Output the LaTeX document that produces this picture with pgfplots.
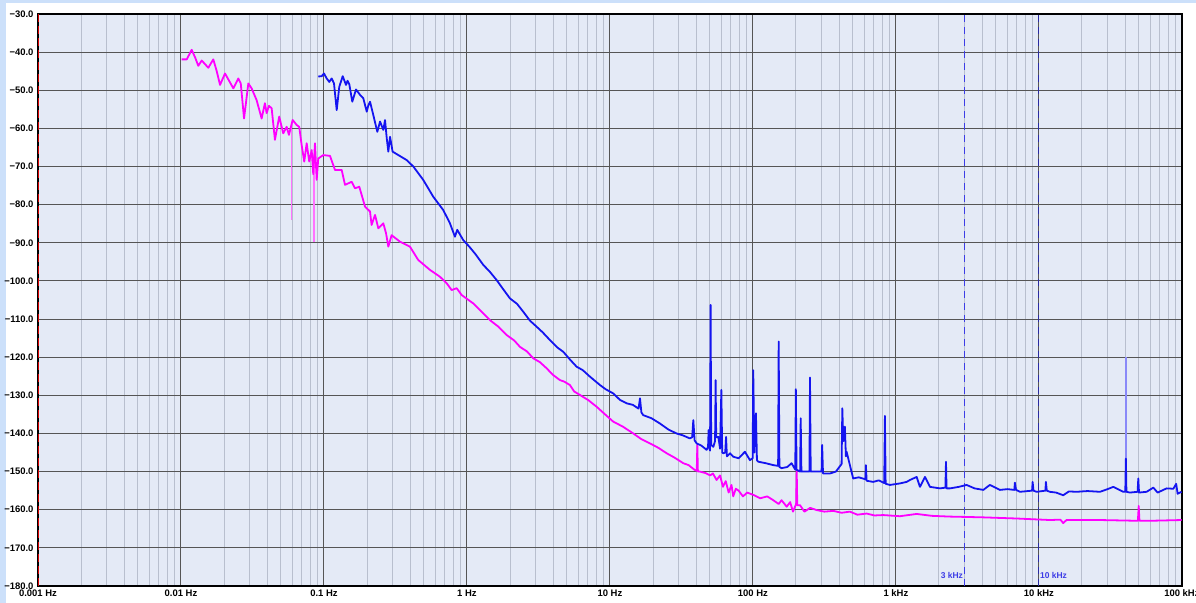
\documentclass[border=0pt]{standalone}
\usepackage{pgfplots}
\pgfplotsset{compat=1.18}
\usepackage{fontspec}
\setmainfont{Liberation Sans}
\definecolor{bgplot}{RGB}{228,234,246}
\definecolor{outerbg}{RGB}{204,224,250}
\definecolor{majgrid}{RGB}{85,85,85}
\definecolor{mingrid}{RGB}{184,191,206}
\definecolor{cmag}{RGB}{255,0,255}
\definecolor{cblue}{RGB}{20,20,240}
\definecolor{lblue}{RGB}{60,60,230}
\begin{document}
\begin{tikzpicture}
\useasboundingbox (-38bp,-17bp) rectangle (1158bp,586bp);
\fill[outerbg] (-38bp,-17bp) rectangle (1158bp,586bp);
\fill[white] (-32bp,-17bp) rectangle (1158bp,582.5bp);
\begin{axis}[
  scale only axis,
  width=1144bp, height=572bp,
  xmin=-3, xmax=5, ymin=-180, ymax=-30,
  axis background/.style={fill=bgplot},
  xtick={-3,-2,-1,0,1,2,3,4,5},
  xticklabels={0.001 Hz,0.01 Hz,0.1 Hz,1 Hz,10 Hz,100 Hz,1 kHz,10 kHz,100 kHz},
  minor xtick={-2.69897,-2.52288,-2.39794,-2.30103,-2.22185,-2.15490,-2.09691,-2.04576,
   -1.69897,-1.52288,-1.39794,-1.30103,-1.22185,-1.15490,-1.09691,-1.04576,
   -0.69897,-0.52288,-0.39794,-0.30103,-0.22185,-0.15490,-0.09691,-0.04576,
   0.30103,0.47712,0.60206,0.69897,0.77815,0.84510,0.90309,0.95424,
   1.30103,1.47712,1.60206,1.69897,1.77815,1.84510,1.90309,1.95424,
   2.30103,2.47712,2.60206,2.69897,2.77815,2.84510,2.90309,2.95424,
   3.30103,3.47712,3.60206,3.69897,3.77815,3.84510,3.90309,3.95424,
   4.30103,4.47712,4.60206,4.69897,4.77815,4.84510,4.90309,4.95424},
  ytick={-180,-170,-160,-150,-140,-130,-120,-110,-100,-90,-80,-70,-60,-50,-40,-30},
  yticklabels={−180.0,−170.0,−160.0,−150.0,−140.0,−130.0,−120.0,−110.0,−100.0,−90.0,−80.0,−70.0,−60.0,−50.0,−40.0,−30.0},
  grid=both,
  major grid style={majgrid, line width=1pt},
  minor grid style={mingrid, line width=1pt},
  major tick length=0pt, minor tick length=0pt,
  tick style={draw=none},
  axis line style={black, line width=1.5pt},
  ticklabel style={font=\fontsize{9.5}{11}\selectfont\bfseries},
  xticklabel style={yshift=-0.5bp},
  yticklabel style={xshift=-1bp},
  clip=true,
]
% dashed markers
\addplot[lblue, line width=1pt, dash pattern=on 7bp off 5bp] coordinates {(3.47712,-180) (3.47712,-30)};
\addplot[lblue!70!black, line width=1pt, dash pattern=on 7bp off 5bp] coordinates {(4,-180) (4,-30)};
\node[anchor=east, text=lblue, font=\fontsize{8.5}{10}\selectfont\bfseries, inner sep=1bp] at (axis cs:3.47712,-177.2) {3 kHz};
\node[anchor=west, text=lblue, font=\fontsize{8.5}{10}\selectfont\bfseries, inner sep=1bp] at (axis cs:4,-177.2) {10 kHz};
% pale drop lines
\addplot[cmag!55, line width=1.6pt] coordinates {(-1.226,-59.0) (-1.226,-84.0)};
\addplot[cmag!55, line width=1.6pt] coordinates {(-1.070,-67.0) (-1.070,-89.7)};
\addplot[cblue!50, line width=1.6pt] coordinates {(4.608,-146.6) (4.608,-119.9)};
% magenta series
\addplot[cmag, line width=1.8pt, line join=round] coordinates {
(-1.995,-41.9) (-1.960,-41.9) (-1.925,-39.4) (-1.900,-41.5) (-1.879,-43.6) (-1.855,-42.2) (-1.809,-44.1) (-1.774,-41.9) (-1.750,-45) (-1.727,-48.6) (-1.692,-45.6) (-1.634,-49.5) (-1.599,-46.9) (-1.582,-48.2) (-1.559,-57.4) (-1.529,-48.2) (-1.506,-49.5) (-1.471,-52.6) (-1.436,-57.4) (-1.413,-53.4) (-1.401,-56.0) (-1.385,-54.1) (-1.366,-54.7) (-1.343,-63.0) (-1.313,-56.9) (-1.285,-61.3) (-1.261,-59.6) (-1.245,-61.7) (-1.219,-57.8) (-1.191,-59.1) (-1.173,-59.6) (-1.156,-64.4) (-1.138,-68.7) (-1.121,-63.9) (-1.103,-68.7) (-1.086,-65.7) (-1.075,-72) (-1.063,-63.9) (-1.051,-73.5) (-1.040,-67.9) (-1.005,-67.0) (-0.958,-67.2) (-0.923,-70.9) (-0.876,-70.9) (-0.853,-74.8) (-0.806,-74.0) (-0.783,-75.7) (-0.753,-75.3) (-0.713,-80.5) (-0.678,-81.8) (-0.667,-85.3) (-0.643,-82.7) (-0.620,-86.2) (-0.585,-84.9) (-0.566,-87.5) (-0.550,-91.0) (-0.527,-88.0) (-0.469,-89.7) (-0.399,-91.0) (-0.341,-94.5) (-0.259,-97.1)
(-0.189,-98.9) (-0.142,-100.6) (-0.107,-102.4) (-0.072,-101.9) (-0.037,-103.7) (0.044,-105.9) (0.10,-108.0) (0.161,-110.3) (0.22,-112.0) (0.278,-114.2) (0.33,-115.6) (0.371,-117.3) (0.42,-118.5) (0.464,-120.3) (0.51,-121.3) (0.557,-122.9) (0.60,-124.6) (0.650,-126.0) (0.68,-126.4) (0.720,-127.3) (0.75,-129.0) (0.790,-129.9) (0.85,-131.3) (0.907,-133.0) (0.96,-134.8) (1.023,-136.9) (1.09,-138.2) (1.163,-140.0) (1.22,-141.5) (1.280,-142.6) (1.34,-143.8) (1.397,-145.2) (1.45,-146.3) (1.513,-147.8) (1.55,-148.3) (1.594,-149.6) (1.607,-149.8) (1.611,-143.0) (1.615,-150.0) (1.629,-150.0) (1.67,-150.4) (1.700,-151) (1.72,-150.5) (1.746,-152.2)
(1.77,-151) (1.79,-154) (1.81,-152.5) (1.83,-155.5) (1.85,-153.5) (1.862,-156.5) (1.88,-154.5) (1.90,-155) (1.93,-156.5) (1.96,-155.5) (2.002,-156.1) (2.05,-157) (2.10,-156.5) (2.142,-157.5) (2.18,-158.5) (2.20,-157.5) (2.236,-159.2) (2.26,-158) (2.28,-160.5) (2.302,-158.5) (2.306,-149.6) (2.310,-158.8) (2.329,-158.8) (2.36,-160.5) (2.40,-159.5) (2.446,-160.1) (2.50,-160.5) (2.562,-160.3) (2.62,-160.8) (2.678,-160.5) (2.73,-161.3) (2.795,-161.0) (2.85,-161.5) (2.911,-161.4) (3.028,-161.7) (3.145,-161.1) (3.25,-161.6) (3.378,-161.8) (3.50,-161.9) (3.611,-162.0) (3.844,-162.3) (4.077,-162.7) (4.150,-162.6) (4.170,-163.5) (4.193,-162.7) (4.427,-162.7) (4.692,-162.9) (4.698,-159.0) (4.703,-162.9) (4.776,-162.9) (4.998,-162.7)
};
% blue series
\addplot[cblue, line width=1.8pt, line join=round] coordinates {
(-1.040,-46.4) (-1.016,-46.3) (-1.000,-45.6) (-0.981,-46.9) (-0.963,-47.8) (-0.946,-46.9) (-0.930,-48.2) (-0.911,-55.2) (-0.893,-49.1) (-0.869,-46.3) (-0.846,-48.6) (-0.835,-47.5) (-0.823,-48.4) (-0.802,-53.0) (-0.776,-49.8) (-0.748,-51.2) (-0.725,-52.1) (-0.701,-55.6) (-0.690,-54.0) (-0.678,-53.0) (-0.655,-56.5) (-0.627,-60.9) (-0.608,-58.2) (-0.585,-60.4) (-0.573,-57.8) (-0.561,-62.6) (-0.550,-66.1) (-0.538,-62.2) (-0.520,-66.1) (-0.480,-67.0) (-0.422,-68.3) (-0.375,-70.0) (-0.306,-73.5) (-0.236,-77.9) (-0.166,-81.4) (-0.119,-84.9) (-0.084,-88.4) (-0.068,-86.6) (-0.026,-89.3) (0.016,-91.0) (0.06,-93.0) (0.114,-95.8) (0.16,-97.6) (0.208,-99.8) (0.25,-102.0) (0.301,-104.6) (0.35,-106.0) (0.394,-108.1) (0.44,-110.4) (0.487,-112.0) (0.53,-113.5) (0.580,-115.5) (0.63,-117.4) (0.674,-118.6) (0.72,-120.6) (0.767,-122.5) (0.81,-123.4) (0.860,-125.1) (0.930,-127.3) (0.97,-128.4) (1.023,-129.5) (1.07,-131.2) (1.117,-132.1) (1.16,-132.5) (1.200,-133.5) (1.210,-130.8) (1.220,-134.5) (1.233,-135.2) (1.29,-136.0) (1.350,-137.4) (1.41,-139.0) (1.466,-140.0) (1.51,-140.5) (1.559,-141.3) (1.575,-141) (1.583,-136.5) (1.592,-141.8) (1.606,-142.6) (1.64,-143.2) (1.676,-144.3) (1.686,-143.5) (1.690,-139.1) (1.696,-144) (1.700,-144.5) (1.704,-106.3) (1.708,-143) (1.723,-143.5) (1.735,-142) (1.739,-126.0) (1.743,-141) (1.758,-140.9) (1.770,-144) (1.779,-128.6) (1.785,-145) (1.793,-145.2) (1.806,-145) (1.812,-140.9) (1.818,-146) (1.84,-145.2) (1.862,-146.1) (1.90,-146.5) (1.944,-144.8) (1.979,-147.0) (1.998,-146.5) (2.002,-123.4) (2.010,-145) (2.021,-134.7) (2.028,-147) (2.037,-147.4) (2.09,-147.8) (2.142,-148.3) (2.176,-148.5) (2.180,-115.9) (2.185,-148.8) (2.200,-149.1) (2.24,-148.8) (2.270,-147.8) (2.296,-149.5) (2.300,-128.4) (2.305,-149.5) (2.330,-150) (2.334,-136.0) (2.339,-150) (2.363,-150.0) (2.395,-150) (2.399,-125.3) (2.404,-150) (2.433,-150.0) (2.480,-150) (2.484,-143.0) (2.490,-150.5) (2.538,-150.5) (2.58,-150.0) (2.620,-148) (2.625,-133.4) (2.632,-142) (2.643,-138.2) (2.650,-146) (2.655,-144.8) (2.701,-151.8) (2.74,-151.5) (2.786,-152) (2.790,-148.3) (2.795,-152.4) (2.841,-152.7) (2.88,-152.3) (2.918,-153) (2.923,-135.4) (2.928,-153.2) (2.958,-153.5) (3.028,-153.1) (3.075,-152.7) (3.098,-152.2) (3.145,-151.4) (3.168,-154.0) (3.203,-151.4) (3.238,-154.0) (3.308,-154.4) (3.346,-154.2) (3.350,-147.4) (3.354,-154.4) (3.378,-154.4) (3.44,-154.0) (3.494,-153.5) (3.55,-154.4) (3.611,-154.8) (3.657,-153.5) (3.727,-154.8) (3.78,-154.6) (3.828,-154.8) (3.832,-152.9) (3.840,-154.8) (3.867,-155.3) (3.952,-155.0) (3.956,-152.7) (3.962,-155.0) (3.984,-155.3) (4.045,-155) (4.049,-152.7) (4.055,-155) (4.077,-155.3) (4.12,-155.5) (4.170,-156.2) (4.21,-155.2) (4.263,-155.3) (4.34,-155.1) (4.427,-155.3) (4.48,-154.6) (4.520,-154.0) (4.590,-155.3) (4.604,-155.3) (4.608,-146.6) (4.612,-155.3) (4.636,-155.5) (4.690,-155.3) (4.695,-151.8) (4.700,-155.5) (4.753,-155.3) (4.800,-154.2) (4.830,-155.5) (4.893,-154.4) (4.940,-154.5) (4.960,-153.2) (4.970,-155.8) (4.998,-155.3)
};
\draw[red!85!black, line width=1.5pt, dash pattern=on 8bp off 4bp] (rel axis cs:0,0) -- (rel axis cs:0,1);
\end{axis}
\end{tikzpicture}
\end{document}
